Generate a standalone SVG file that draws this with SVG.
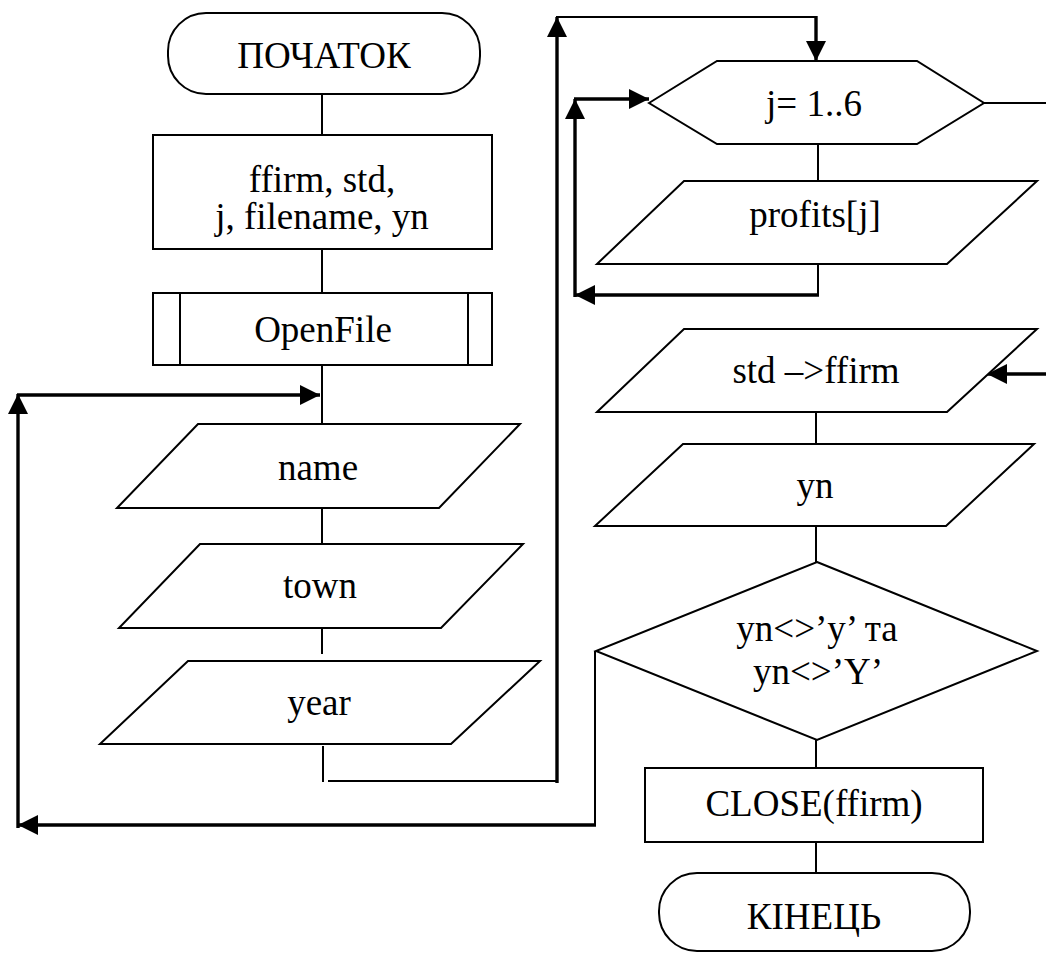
<svg xmlns="http://www.w3.org/2000/svg" width="1046" height="953" viewBox="0 0 1046 953">
  <style>
    .shape { fill: #ffffff; stroke: #000000; stroke-width: 2; }
    .lbl { font-family: "Liberation Serif", "Times New Roman", serif; font-size: 37px; fill: #000000; text-anchor: middle; }
    .link { fill: none; stroke: #000000; stroke-width: 2; }
    .flow { fill: none; stroke: #000000; stroke-width: 3.4; }
    .arrow { marker-end: url(#head); }
  </style>
  <defs>
    <marker id="head" markerUnits="userSpaceOnUse" viewBox="0 0 20 20" markerWidth="20" markerHeight="20" refX="20" refY="10" orient="auto">
      <path d="M0,0 L20,10 L0,20 z" fill="#000000"/>
    </marker>
  </defs>

  <rect width="1046" height="953" fill="#ffffff"/>

  <!-- connectors -->
  <g id="connectors">
    <!-- main column, left side -->
    <line class="link" x1="322" y1="94" x2="322" y2="135"/>
    <line class="link" x1="322" y1="249" x2="322" y2="293"/>
    <line class="link" x1="322" y1="365" x2="322" y2="424"/>
    <line class="link" x1="322" y1="508" x2="322" y2="544"/>
    <line class="link" x1="322" y1="628" x2="322" y2="654"/>
    <line class="link" x1="323" y1="746" x2="323" y2="782"/>
    <line class="link" x1="328" y1="781" x2="558" y2="781"/>
    <!-- jump to the profits loop -->
    <path class="flow arrow" d="M557,783 L557,17"/>
    <line class="link" x1="556" y1="17" x2="817" y2="17"/>
    <path class="flow arrow" d="M816,16 L816,61"/>
    <!-- inner loop j = 1..6 -->
    <line class="link" x1="818" y1="144" x2="818" y2="181"/>
    <line class="link" x1="818" y1="264" x2="818" y2="296"/>
    <path class="flow arrow" d="M819,295 L575,295"/>
    <path class="flow arrow" d="M575,297 L575,99"/>
    <path class="flow arrow" d="M574,99 L649,99"/>
    <line class="link" x1="984" y1="103" x2="1046" y2="103"/>
    <path class="flow arrow" d="M1046,374 L987,374"/>
    <!-- lower right column -->
    <line class="link" x1="816" y1="412" x2="816" y2="444"/>
    <line class="link" x1="816" y1="526" x2="816" y2="562"/>
    <line class="link" x1="816" y1="740" x2="816" y2="768"/>
    <line class="link" x1="816" y1="842" x2="816" y2="873"/>
    <!-- repeat loop back to name input -->
    <line class="link" x1="595" y1="651" x2="595" y2="826"/>
    <path class="flow arrow" d="M596,825 L18,825"/>
    <path class="flow arrow" d="M18,828 L18,394"/>
    <path class="flow arrow" d="M17,395 L320,395"/>
  </g>

  <g id="start">
    <rect class="shape" x="168" y="13" width="312" height="81" rx="38" ry="38"/>
    <text class="lbl" x="324" y="68">ПОЧАТОК</text>
  </g>

  <g id="declare">
    <rect class="shape" x="153" y="135" width="339" height="114"/>
    <text class="lbl" x="322" y="192">ffirm, std,</text>
    <text class="lbl" x="322" y="229">j, filename, yn</text>
  </g>

  <g id="openfile">
    <rect class="shape" x="153" y="293" width="339" height="72"/>
    <line class="shape" x1="180" y1="293" x2="180" y2="365"/>
    <line class="shape" x1="468" y1="293" x2="468" y2="365"/>
    <text class="lbl" x="323" y="342">OpenFile</text>
  </g>

  <g id="input-name">
    <polygon class="shape" points="198,424 520,424 439,508 117,508"/>
    <text class="lbl" x="318" y="480">name</text>
  </g>

  <g id="input-town">
    <polygon class="shape" points="200,544 523,544 441,628 119,628"/>
    <text class="lbl" x="320" y="598">town</text>
  </g>

  <g id="input-year">
    <polygon class="shape" points="188,661 540,661 451,744 100,744"/>
    <text class="lbl" x="319" y="715">year</text>
  </g>

  <g id="loop-j">
    <polygon class="shape" points="649,103 717,61 917,61 984,103 917,144 717,144"/>
    <text class="lbl" x="814" y="116">j= 1..6</text>
  </g>

  <g id="input-profits">
    <polygon class="shape" points="684,181 1037,181 947,264 597,264"/>
    <text class="lbl" x="815" y="227">profits[j]</text>
  </g>

  <g id="write-record">
    <polygon class="shape" points="684,329 1037,329 947,412 597,412"/>
    <text class="lbl" x="816" y="383">std –&gt;ffirm</text>
  </g>

  <g id="input-yn">
    <polygon class="shape" points="683,444 1034,444 946,526 595,526"/>
    <text class="lbl" x="815" y="498">yn</text>
  </g>

  <g id="check-yn">
    <polygon class="shape" points="817,562 1037,651 817,740 596,651"/>
    <text class="lbl" x="817" y="641">yn&lt;&gt;’y’ та</text>
    <text class="lbl" x="818" y="684">yn&lt;&gt;’Y’</text>
  </g>

  <g id="close-file">
    <rect class="shape" x="645" y="768" width="338" height="74"/>
    <text class="lbl" x="814" y="816">CLOSE(ffirm)</text>
  </g>

  <g id="end">
    <rect class="shape" x="659" y="873" width="311" height="78" rx="38" ry="38"/>
    <text class="lbl" x="814" y="929">КІНЕЦЬ</text>
  </g>
</svg>
